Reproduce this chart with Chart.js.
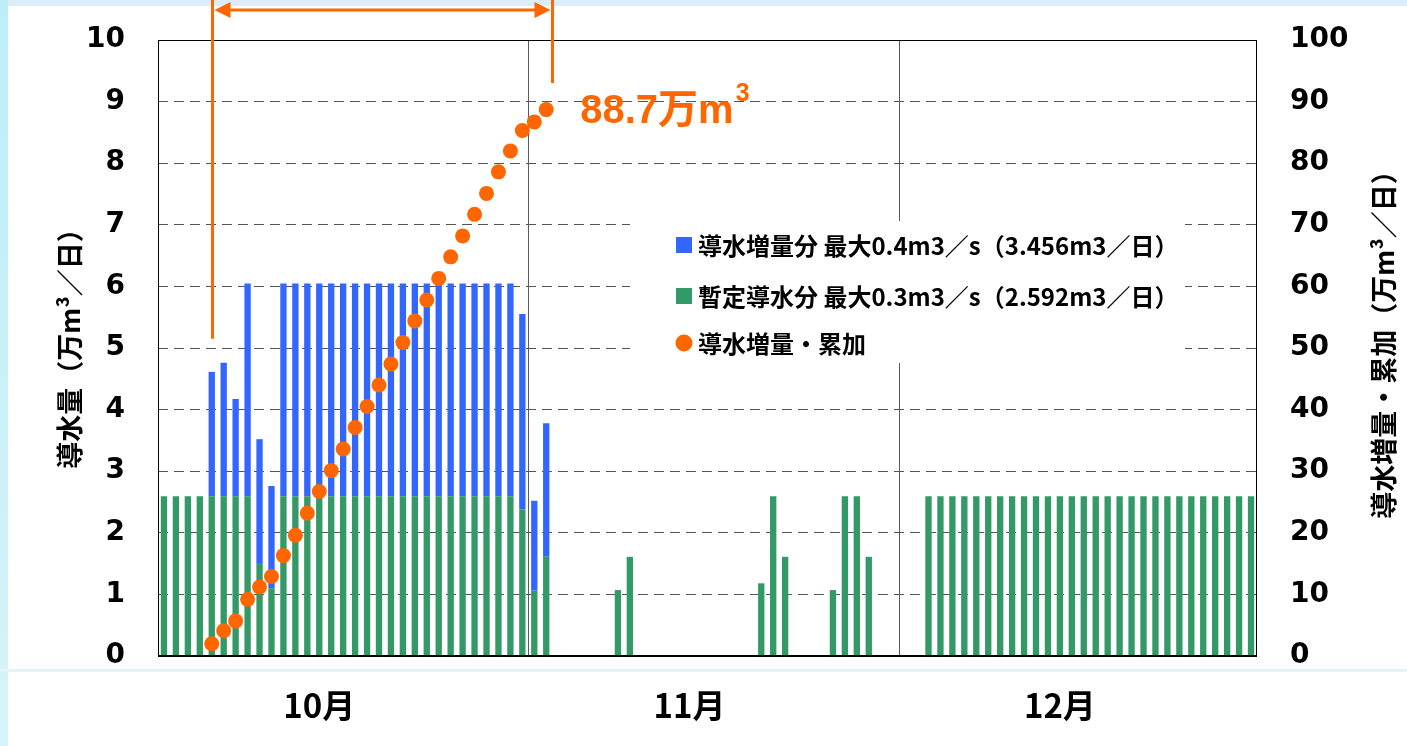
<!DOCTYPE html>
<html>
<head>
<meta charset="utf-8">
<script src="https://cdn.jsdelivr.net/npm/chart.js@4.4.1/dist/chart.umd.min.js"></script>
<style>
html,body{margin:0;padding:0;background:#fff;}
#wrap{position:relative;width:1407px;height:746px;overflow:hidden;background:#fff;}
.topband{position:absolute;left:0;top:0;width:1407px;height:6px;background:#dcedf9;}
.leftband{position:absolute;left:0;top:0;width:8px;height:746px;background:linear-gradient(#bdeef8,#d6f3fa);}
.hline{position:absolute;left:0;top:669px;width:1407px;height:3px;background:#e2f3fa;}
canvas{position:absolute;left:0;top:0;}
</style>
</head>
<body>
<div id="wrap">
  <div class="topband"></div>
  <div class="leftband"></div>
  <div class="hline"></div>
  <canvas id="c" width="1407" height="746"></canvas>
</div>
<script>
// ---- categories ----
const monthNames = ['10月', '11月', '12月'];
const monthDays = [31, 30, 31];
const monthTickDay = [14, 14, 15];   // day on which each month label is written

// ---- 暫定導水分 (万m3/日) ----
const greenOct = [2.592, 2.592, 2.592, 2.592, 2.592, 2.592, 2.592, 2.592, 1.51, 1.1,
  2.592, 2.592, 2.592, 2.592, 2.592, 2.592, 2.592, 2.592, 2.592, 2.592,
  2.592, 2.592, 2.592, 2.592, 2.592, 2.592, 2.592, 2.592, 2.592, 2.592, 2.38];
const greenNov = [1.06, 1.61, null, null, null, null, null, 1.07, 1.61, null,
  null, null, null, null, null, null, null, null, null, 1.18,
  2.592, 1.61, null, null, null, 1.07, 2.592, 2.592, 1.61, null];
const greenDec = [null, null, null, 2.592, 2.592, 2.592, 2.592, 2.592, 2.592, 2.592,
  2.592, 2.592, 2.592, 2.592, 2.592, 2.592, 2.592, 2.592, 2.592, 2.592,
  2.592, 2.592, 2.592, 2.592, 2.592, 2.592, 2.592, 2.592, 2.592, 2.592, 2.592];

// ---- 導水増量分 (万m3/日) ----
const blueOct = [null, null, null, null, 2.02, 2.17, 1.58, 3.456, 2.01, 1.66,
  3.456, 3.456, 3.456, 3.456, 3.456, 3.456, 3.456, 3.456, 3.456, 3.456,
  3.456, 3.456, 3.456, 3.456, 3.456, 3.456, 3.456, 3.456, 3.456, 3.456, 3.17];
const blueNov = [1.46, 2.17, null, null, null, null, null, null, null, null,
  null, null, null, null, null, null, null, null, null, null,
  null, null, null, null, null, null, null, null, null, null];
const blueDec = new Array(31).fill(null);

// ---- 導水増量・累加 (万m3) ----
const cumOct = [null, null, null, null, 2.0, 4.1, 5.7, 9.2, 11.2, 12.9,
  16.3, 19.6, 23.2, 26.7, 30.1, 33.6, 37.1, 40.5, 44.0, 47.4,
  50.9, 54.4, 57.8, 61.3, 64.8, 68.2, 71.7, 75.1, 78.6, 82.0, 85.3];
const cumNov = [86.7, 88.7, null, null, null, null, null, null, null, null,
  null, null, null, null, null, null, null, null, null, null,
  null, null, null, null, null, null, null, null, null, null];
const cumDec = new Array(31).fill(null);

const seriesNames = {
  blue: '導水増量分 最大0.4m3／s（3.456m3／日）',
  green: '暫定導水分 最大0.3m3／s（2.592m3／日）',
  cum: '導水増量・累加'
};
const axisTitleLeft = '導水量（万m³／日）';
const axisTitleRight = '導水増量・累加（万m³／日）';

// ---- build ----
const labels = [];
monthDays.forEach((n, m) => { for (let d = 1; d <= n; d++) labels.push((m + 10) + '/' + d); });
const tickText = {};
monthTickDay.forEach((d, m) => { tickText[(m + 10) + '/' + d] = monthNames[m]; });
const green = [...greenOct, ...greenNov, ...greenDec];
const blue = [...blueOct, ...blueNov, ...blueDec];
const cum = [...cumOct, ...cumNov, ...cumDec];
const dividerAfter = [30, 61];

const C_BLUE = '#3366FF', C_GREEN = '#339966', C_ORANGE = '#FF6600';
const CJK = '"Noto Sans CJK JP", "Noto Sans", sans-serif';
const NUM = '"DejaVu Sans", "Liberation Sans", sans-serif';

const deco = {
  id: 'deco',
  beforeDatasetsDraw(chart) {
    const { ctx, chartArea: a, scales: { x } } = chart;
    ctx.save();
    ctx.strokeStyle = '#5a5a5a';
    ctx.lineWidth = 1;
    dividerAfter.forEach(i => {
      const px = Math.round((x.getPixelForValue(i) + x.getPixelForValue(i + 1)) / 2) + 0.5;
      ctx.beginPath(); ctx.moveTo(px, a.top); ctx.lineTo(px, a.bottom); ctx.stroke();
    });
    ctx.restore();
  },
  afterDatasetsDraw(chart) {
    const { ctx, chartArea: a, scales: { x, y } } = chart;
    ctx.save();
    // frame
    ctx.strokeStyle = '#000';
    ctx.lineWidth = 1;
    ctx.strokeRect(a.left + 0.5, a.top + 0.5, a.right - a.left - 1, a.bottom - a.top - 1);
    ctx.lineWidth = 2;
    ctx.beginPath(); ctx.moveTo(a.left, a.bottom); ctx.lineTo(a.right, a.bottom); ctx.stroke();

    // legend inside plot
    const lb = { x: 630, y: 221, w: 555, h: 142 };
    ctx.fillStyle = '#fff';
    ctx.fillRect(lb.x, lb.y, lb.w, lb.h);
    const rows = [
      { t: seriesNames.blue, c: C_BLUE, shape: 'sq', cy: 245 },
      { t: seriesNames.green, c: C_GREEN, shape: 'sq', cy: 296 },
      { t: seriesNames.cum, c: C_ORANGE, shape: 'ci', cy: 343 }
    ];
    ctx.textBaseline = 'middle';
    ctx.textAlign = 'left';
    ctx.font = 'bold 24px ' + CJK;
    rows.forEach(r => {
      ctx.fillStyle = r.c;
      if (r.shape === 'sq') ctx.fillRect(676, r.cy - 8, 16, 16);
      else { ctx.beginPath(); ctx.arc(684, r.cy, 8.5, 0, Math.PI * 2); ctx.fill(); }
      ctx.fillStyle = '#000';
      ctx.fillText(r.t, 698, r.cy + 1);
    });

    // bracket annotation
    const meta = chart.getDatasetMeta(0);
    let lastIdx = -1, firstIdx = -1;
    cum.forEach((v, i) => { if (v != null) { lastIdx = i; if (firstIdx < 0) firstIdx = i; } });
    const xl = Math.round(x.getPixelForValue(firstIdx)) + 0.5;
    const xr = Math.round(x.getPixelForValue(lastIdx) + 6) + 0.5;
    ctx.strokeStyle = C_ORANGE; ctx.fillStyle = C_ORANGE; ctx.lineWidth = 3;
    ctx.beginPath(); ctx.moveTo(xl, 0); ctx.lineTo(xl, y.getPixelForValue(5.15)); ctx.stroke();
    ctx.beginPath(); ctx.moveTo(xr, 0); ctx.lineTo(xr, 83); ctx.stroke();
    const ay = 10;
    ctx.beginPath(); ctx.moveTo(xl + 10, ay); ctx.lineTo(xr - 10, ay); ctx.stroke();
    ctx.beginPath(); ctx.moveTo(xl + 2, ay); ctx.lineTo(xl + 18, ay - 8); ctx.lineTo(xl + 18, ay + 8); ctx.closePath(); ctx.fill();
    ctx.beginPath(); ctx.moveTo(xr - 2, ay); ctx.lineTo(xr - 18, ay - 8); ctx.lineTo(xr - 18, ay + 8); ctx.closePath(); ctx.fill();

    // total label
    const p = meta.data[lastIdx];
    const txt = cum[lastIdx].toFixed(1) + '万m';
    ctx.textBaseline = 'alphabetic';
    ctx.font = 'bold 40px "Liberation Sans", ' + CJK;
    const tx = p.x + 34;
    ctx.fillText(txt, tx, p.y + 13);
    const w = ctx.measureText(txt).width;
    ctx.font = 'bold 25px "Liberation Sans", sans-serif';
    ctx.fillText('3', tx + w + 2, p.y - 9);
    ctx.restore();
  },
  afterDraw(chart) {
    const { ctx } = chart;
    ctx.save();
    ctx.fillStyle = '#000';
    ctx.textAlign = 'center';
    ctx.textBaseline = 'middle';
    ctx.font = 'bold 27px ' + CJK;
    ctx.translate(70, 342); ctx.rotate(-Math.PI / 2);
    ctx.fillText(axisTitleLeft, 0, 0);
    ctx.restore();
    ctx.save();
    ctx.fillStyle = '#000';
    ctx.textAlign = 'center';
    ctx.textBaseline = 'middle';
    ctx.font = 'bold 27px ' + CJK;
    ctx.translate(1384, 338); ctx.rotate(-Math.PI / 2);
    ctx.fillText(axisTitleRight, 0, 0);
    ctx.restore();
  }
};

new Chart(document.getElementById('c'), {
  type: 'bar',
  data: {
    labels,
    datasets: [
      { type: 'line', label: seriesNames.cum, data: cum, yAxisID: 'y2', showLine: false,
        pointRadius: 7.5, pointHoverRadius: 7.5, pointBackgroundColor: C_ORANGE, pointBorderWidth: 0,
        borderColor: C_ORANGE, backgroundColor: C_ORANGE, order: 0 },
      { label: seriesNames.green, data: green, backgroundColor: C_GREEN, yAxisID: 'y', stack: 's',
        barPercentage: 0.53, categoryPercentage: 1, order: 1 },
      { label: seriesNames.blue, data: blue, backgroundColor: C_BLUE, yAxisID: 'y', stack: 's',
        barPercentage: 0.53, categoryPercentage: 1, order: 1 }
    ]
  },
  options: {
    responsive: false,
    animation: false,
    devicePixelRatio: 1,
    layout: { padding: { top: 40, left: 0, right: 0, bottom: 0 } },
    plugins: { legend: { display: false }, tooltip: { enabled: false } },
    scales: {
      x: {
        stacked: true,
        grid: { display: false },
        border: { display: false },
        ticks: {
          autoSkip: false, maxRotation: 0, minRotation: 0, padding: 22, color: '#000',
          font: { family: CJK, size: 33, weight: 'bold' },
          callback(v, i) { return tickText[labels[i]] || ''; }
        },
        afterFit(s) { s.height = 90; s.paddingLeft = 0; s.paddingRight = 0; }
      },
      y: {
        stacked: true, position: 'left', min: 0, max: 10,
        ticks: { stepSize: 1, padding: 33, color: '#000', font: { family: NUM, size: 28, weight: 'bold' } },
        grid: {
          drawTicks: false, lineWidth: 1, borderDash: [10, 6],
          color: c => (c.tick && (c.tick.value === 0 || c.tick.value === 10)) ? 'rgba(0,0,0,0)' : '#555'
        },
        border: { display: false, dash: [10, 6] },
        afterFit(s) { s.width = 158; s.paddingTop = 0; s.paddingBottom = 0; }
      },
      y2: {
        position: 'right', min: 0, max: 100,
        ticks: { stepSize: 10, padding: 33, color: '#000', font: { family: NUM, size: 28, weight: 'bold' } },
        grid: { display: false, drawTicks: false },
        border: { display: false },
        afterFit(s) { s.width = 150; s.paddingTop = 0; s.paddingBottom = 0; }
      }
    }
  },
  plugins: [deco]
});
</script>
</body>
</html>
